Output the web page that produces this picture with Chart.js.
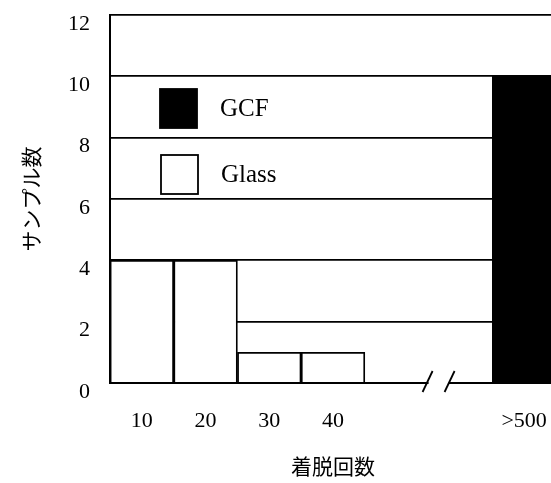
<!DOCTYPE html>
<html>
<head>
<meta charset="utf-8">
<script src="https://cdn.jsdelivr.net/npm/chart.js@4/dist/chart.umd.min.js"></script>
<style>
  html, body { margin: 0; padding: 0; background: #fff; overflow: hidden; }
  #wrap { width: 556px; height: 483px; }
</style>
</head>
<body>
<div id="wrap"><canvas id="c"></canvas></div>
<script>
// categories (two blank slots form the axis break before >500)
const categories = ['10', '20', '30', '40', '', '', '>500'];
const glassValues = [4, 4, 1, 1, null, null, null];
const gcfValues = [null, null, null, null, null, null, 10];
const yTicks = [0, 2, 4, 6, 8, 10, 12];

const SERIF = "'Liberation Serif', 'DejaVu Serif', serif";
const CJK = "'Noto Sans CJK JP', 'Noto Sans', sans-serif";

// legend boxes sit inside the plot, drawn by hand
const insideLegend = {
  id: 'insideLegend',
  afterDatasetsDraw(chart) {
    const ctx = chart.ctx;
    const items = [
      { ds: chart.data.datasets[1], x: 160, y: 89 },
      { ds: chart.data.datasets[0], x: 161, y: 155 },
    ];
    ctx.save();
    items.forEach(it => {
      ctx.fillStyle = it.ds.backgroundColor;
      ctx.fillRect(it.x, it.y, 37, 39);
      ctx.lineWidth = 1.8;
      ctx.strokeStyle = '#000';
      ctx.strokeRect(it.x, it.y, 37, 39);
      ctx.fillStyle = '#000';
      ctx.font = '25px ' + SERIF;
      ctx.textBaseline = 'middle';
      ctx.fillText(it.ds.label, it.x + 60, it.y + 20);
    });
    ctx.restore();
  },
};

// "//" break mark on the x axis between 40 and >500
const axisBreak = {
  id: 'axisBreak',
  afterDatasetsDraw(chart) {
    const ctx = chart.ctx;
    const xs = chart.scales.x;
    const y0 = chart.scales.y.getPixelForValue(0);
    const mid = (xs.getPixelForValue(4) + xs.getPixelForValue(5)) / 2 + 10;
    ctx.save();
    ctx.fillStyle = '#fff';
    ctx.fillRect(mid - 10, y0 - 3, 20, 6);
    ctx.strokeStyle = '#000';
    ctx.lineWidth = 1.8;
    [mid - 11, mid + 11].forEach(x => {
      ctx.beginPath();
      ctx.moveTo(x - 5, y0 + 9);
      ctx.lineTo(x + 5, y0 - 12);
      ctx.stroke();
    });
    ctx.restore();
  },
};

const noPad = (s) => {
  s.paddingTop = 0; s.paddingBottom = 0; s.paddingLeft = 0; s.paddingRight = 0;
};

new Chart(document.getElementById('c'), {
  type: 'bar',
  data: {
    labels: categories,
    datasets: [
      {
        label: 'Glass',
        data: glassValues,
        backgroundColor: '#ffffff',
        borderColor: '#000000',
        borderWidth: 1.8,
        barPercentage: 1,
        categoryPercentage: 1,
      },
      {
        label: 'GCF',
        data: gcfValues,
        backgroundColor: '#000000',
        borderColor: '#000000',
        borderWidth: 1.8,
        barPercentage: 1,
        categoryPercentage: 1,
      },
    ],
  },
  options: {
    responsive: true,
    maintainAspectRatio: false,
    animation: false,
    layout: { padding: { top: 15, right: 0, left: 0, bottom: 0 } },
    plugins: {
      legend: { display: false },
      tooltip: { enabled: false },
    },
    scales: {
      x: {
        stacked: true,
        grid: { display: false, drawTicks: false },
        border: { display: true, color: '#000', width: 2 },
        ticks: {
          color: '#000',
          font: { family: SERIF, size: 22 },
          padding: 25,
          maxRotation: 0,
          autoSkip: false,
        },
        title: {
          display: true,
          text: '着脱回数',
          color: '#000',
          font: { family: CJK, size: 21 },
          padding: { top: 0, bottom: 4 },
        },
        afterFit: (s) => { s.height = 100; noPad(s); },
      },
      y: {
        stacked: true,
        min: 0,
        max: 12,
        afterBuildTicks: (s) => { s.ticks = yTicks.map(v => ({ value: v })); },
        grid: { color: '#000', lineWidth: 1.8, drawTicks: false },
        border: { display: true, color: '#000', width: 2 },
        ticks: {
          color: '#000',
          font: { family: SERIF, size: 22 },
          padding: 20,
          labelOffset: 9,
        },
        title: {
          display: true,
          text: 'サンプル数',
          color: '#000',
          font: { family: CJK, size: 21 },
          padding: { top: 18, bottom: 0 },
        },
        afterFit: (s) => { s.width = 110; noPad(s); },
      },
    },
  },
  plugins: [insideLegend, axisBreak],
});
</script>
</body>
</html>
